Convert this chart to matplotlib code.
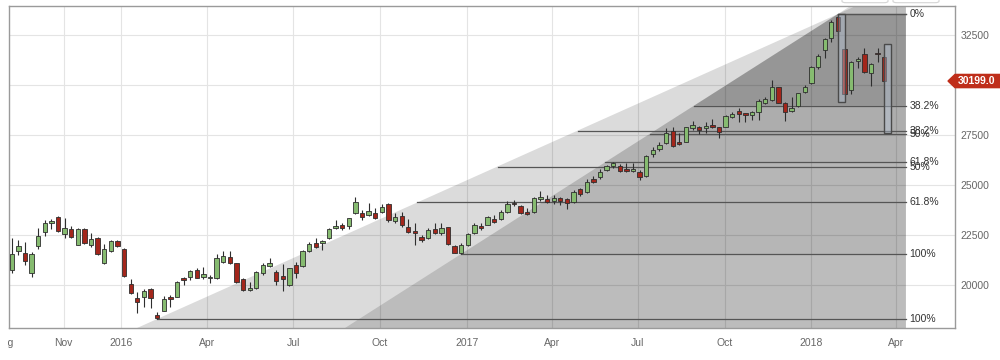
import matplotlib
matplotlib.use('Agg')
import matplotlib.pyplot as plt
import matplotlib.dates as mdates
from matplotlib.patches import Polygon, Rectangle, FancyBboxPatch
from matplotlib.transforms import Bbox, TransformedBbox
import numpy as np
import pandas as pd

plt.rcParams['font.family'] = ['Liberation Sans', 'DejaVu Sans']

# weekly candles, first week starting Monday 2015-09-07
week_start = '2015-09-07'
opens = [20750, 21700, 21617, 20617, 21967, 22667, 23083, 23417, 22533, 22800,
         22000, 22800, 22000, 22367, 21083, 21700, 22200,
         21800, 20033, 19333, 19383, 19800, 18500, 18717, 19417, 19417, 20333,
         20383, 20750, 20417, 20333, 20333, 21167, 21417, 21083, 20300, 19733,
         19833, 20583, 20967, 20667, 20467, 20000, 21000, 20967, 21700, 22083,
         22083, 22333, 22833, 23000, 22967, 23583, 23617, 23500, 23583, 23667,
         24050, 23217, 23450, 22883, 22717, 22383, 22333, 22783, 22617, 22883,
         21950, 21617,
         22000, 22583, 22950, 23000, 23283, 23283, 23667, 24117, 23950, 23667,
         23667, 24283, 24283, 24217, 24333, 24283, 24167, 24783, 24667, 25283,
         25383, 25750, 25950, 25967, 25800, 25700, 25667, 25467, 26533, 26800,
         27083, 27700, 27133, 27167, 27867, 27917, 27833, 28000, 27883, 27917,
         28417, 28717, 28617, 28500, 28667, 29117, 29250, 29883, 29117, 28700,
         28950, 29667,
         30083, 30917, 31750, 32333, 33383, 31783, 29750, 31200, 31550, 30583,
         31617, 31417]
highs = [22333, 22250, 22133, 21667, 22833, 23250, 23283, 23450, 23367, 22967,
         22833, 22833, 22583, 22417, 22033, 22250, 22250,
         21867, 20300, 19667, 19800, 19833, 18633, 19450, 19500, 20217, 20417,
         20750, 20833, 20917, 20500, 21533, 21700, 21700, 21117, 20367, 20167,
         20700, 21083, 21367, 20750, 21050, 20867, 21167, 21750, 22167, 22333,
         22250, 22867, 23250, 23083, 23367, 24417, 23750, 24083, 23833, 24050,
         24117, 23583, 23667, 23283, 23083, 22500, 22833, 23083, 23083, 22917,
         22000, 22083,
         22617, 23083, 23083, 23450, 23500, 23750, 24200, 24250, 24000, 23833,
         24383, 24717, 24500, 24500, 24417, 24333, 24750, 24833, 25283, 25450,
         25783, 26000, 26167, 26033, 26083, 26083, 25750, 26500, 26917, 27133,
         27833, 27917, 27583, 27917, 28200, 27967, 28167, 28300, 27917, 28500,
         28667, 28833, 28617, 28717, 29283, 29383, 30250, 29917, 29167, 29417,
         29617, 30000,
         30950, 31533, 32333, 33250, 33550, 31800, 31217, 31417, 31833, 31083,
         31833, 31500]
lows = [20583, 21500, 21000, 20417, 21800, 22450, 22800, 22650, 22367, 22367,
        22000, 22050, 21917, 21500, 21033, 21667, 21917,
        20417, 19533, 18583, 18917, 18867, 18300, 18700, 18917, 19383, 20000,
        20250, 20333, 20300, 20083, 20300, 21083, 21033, 20083, 19700, 19700,
        19800, 20500, 20917, 20000, 19700, 19967, 20333, 20917, 21667, 21833,
        21750, 22300, 22800, 22750, 22800, 23533, 23250, 23450, 23283, 23617,
        23167, 23117, 22917, 22617, 22000, 22167, 22283, 22550, 22500, 22017,
        21600, 21550,
        21950, 22550, 22750, 23000, 23083, 23250, 23617, 23950, 23550, 23500,
        23617, 24217, 24117, 24050, 24000, 23783, 24083, 24450, 24617, 25083,
        25283, 25700, 25867, 25667, 25667, 25633, 25250, 25417, 26417, 26700,
        27033, 26917, 27000, 27133, 27750, 27533, 27583, 27867, 27367, 27883,
        28333, 28167, 28167, 28250, 28250, 29050, 29217, 29083, 28200, 28667,
        28917, 29617,
        30050, 30783, 31333, 32167, 32550, 29500, 29533, 30833, 30583, 29950,
        31167, 30167]
closes = [21533, 21967, 21217, 21533, 22467, 23083, 23200, 22700, 22867, 22417,
          22800, 22083, 22300, 21533, 21800, 22200, 21967,
          20450, 19583, 19133, 19717, 19333, 18367, 19300, 19300, 20167, 20233,
          20700, 20367, 20533, 20417, 21367, 21467, 21083, 20133, 19750, 19867,
          20633, 21000, 21083, 20217, 20300, 20833, 20583, 21700, 22033, 21917,
          22200, 22800, 22967, 22867, 23333, 24133, 23417, 23717, 23333, 23883,
          23250, 23417, 23000, 22667, 22583, 22250, 22750, 22617, 22833, 22050,
          21617, 22000,
          22550, 23000, 22833, 23417, 23167, 23667, 24050, 24033, 23583, 23550,
          24333, 24417, 24167, 24333, 24217, 24083, 24667, 24550, 25167, 25167,
          25667, 25967, 26083, 25700, 25700, 25800, 25417, 26450, 26750, 27000,
          27583, 26967, 27033, 27883, 28000, 27750, 27950, 27917, 27633, 28450,
          28550, 28550, 28500, 28667, 29217, 29283, 29883, 29117, 28667, 28867,
          29583, 29917,
          30883, 31450, 32283, 33167, 32717, 29550, 31167, 31283, 30633, 31033,
          31533, 30199]

# fibonacci retracements: two swing lows to the same high
fib_high = ('2018-01-29', 33550)
fib_lows = [('2016-02-08', 18300), ('2016-12-26', 21550)]
fib_levels = [0, 0.382, 0.5, 0.618, 1.0]
fib_labels = ['0%', '38.2%', '50%', '61.8%', '100%']
fib_end = '2018-04-11'

# highlight boxes: start, end, top, bottom
boxes = [('2018-01-29', '2018-02-05', 33550, 29150),
         ('2018-03-19', '2018-03-26', 32050, 27600)]
last_price = 30199.0

tick_dates = ['2015-11-01', '2016-01-01', '2016-04-01', '2016-07-01', '2016-10-01',
              '2017-01-01', '2017-04-01', '2017-07-01', '2017-10-01', '2018-01-01',
              '2018-04-01']
tick_labels = ['Nov', '2016', 'Apr', 'Jul', 'Oct', '2017', 'Apr', 'Jul', 'Oct', '2018', 'Apr']
y_ticks = [20000, 22500, 25000, 27500, 30000, 32500]


def main():
    dates = pd.date_range(week_start, periods=len(opens), freq='W-MON')
    x = mdates.date2num(dates)
    o = np.array(opens, float)
    h = np.array(highs, float)
    l = np.array(lows, float)
    c = np.array(closes, float)

    fig = plt.figure(figsize=(10, 3.6), dpi=100)
    ax = fig.add_axes([0.009, 0.0889, 0.946, 0.8944])
    ylo, yhi = 17850, 33950
    ax.set_ylim(ylo, yhi)
    ax.set_xlim(x[0] - 2.9, mdates.date2num(pd.Timestamp('2016-01-04')) + 880)

    # grid
    ax.set_axisbelow(True)
    ax.grid(True, color='#e4e4e4', lw=0.8)
    for s in ax.spines.values():
        s.set_color('#9a9a9a')
        s.set_linewidth(1)

    # fib shading, lines and labels (second fib has the stronger zone shading)
    hx = mdates.date2num(pd.Timestamp(fib_high[0]))
    hp = fib_high[1]
    ex = mdates.date2num(pd.Timestamp(fib_end))
    band_alpha = [[0.0, 0.0, 0.0, 0.0], [0.2, 0.08, 0.05, 0.03]]
    labelled = set()
    for k, (ld, lp) in enumerate(fib_lows):
        lx = mdates.date2num(pd.Timestamp(ld))

        def fx(p):
            return lx + (p - lp) * (hx - lx) / (hp - lp)

        ax.add_patch(Polygon([(fx(ylo), ylo), (fx(yhi), yhi), (ex, yhi), (ex, ylo)],
                             closed=True, fc='black', alpha=0.14, lw=0, zorder=1))
        prices = [hp - lv * (hp - lp) for lv in fib_levels]
        for i in range(len(prices) - 1):
            pt, pb = prices[i], prices[i + 1]
            if band_alpha[k][i] > 0:
                ax.add_patch(Polygon([(fx(pb), pb), (fx(pt), pt), (ex, pt), (ex, pb)],
                                     closed=True, fc='black', alpha=band_alpha[k][i],
                                     lw=0, zorder=1))
        for p, lab in zip(prices, fib_labels):
            ax.plot([fx(p), ex], [p, p], color='#555555', lw=0.9, zorder=1.5)
            if (p, lab) in labelled:
                continue
            labelled.add((p, lab))
            ax.text(ex + 4, p, lab, va='center', ha='left', fontsize=7.5, color='#333333',
                    zorder=5)

    # candles
    up = c >= o
    ax.vlines(x, l, h, color='#2e2e2e', lw=0.8, zorder=2.5)
    body_h = np.maximum(np.abs(c - o), 60)
    ax.bar(x, body_h, bottom=np.minimum(o, c), width=4.6,
           color=np.where(up, '#86bb70', '#a3261b'), edgecolor='#2e2e2e', lw=0.6, zorder=3)

    # highlight boxes
    for s, e, top, bot in boxes:
        xs = mdates.date2num(pd.Timestamp(s))
        xe = mdates.date2num(pd.Timestamp(e))
        ax.add_patch(Rectangle((xs, bot), xe - xs, top - bot, fc=(0.72, 0.78, 0.86, 0.4),
                               ec='#4a4a4a', lw=1.0, zorder=4))

    # axes ticks (30000 sits under the price tag)
    ax.set_xticks(mdates.date2num(pd.to_datetime(tick_dates)))
    ax.set_xticklabels(tick_labels)
    ax.set_yticks(y_ticks)
    ax.set_yticklabels(['' if v == 30000 else str(v) for v in y_ticks])
    ax.yaxis.tick_right()
    ax.tick_params(axis='x', length=0, pad=7, labelsize=7.5, labelcolor='#666666')
    ax.tick_params(axis='y', length=0, pad=4, labelsize=7.5, labelcolor='#666666')

    # first month label, mostly cut off at the left edge
    aug = fig.text(0.0145, 0.061, 'Aug', ha='right', va='top', fontsize=7.5, color='#666666')
    aug.set_clip_box(TransformedBbox(Bbox([[0.0075, 0.0], [0.1, 0.2]]), fig.transFigure))
    aug.set_clip_on(True)

    # last price tag
    tr = ax.get_yaxis_transform()
    d = 330
    ax.add_patch(Polygon([(0.9926, last_price), (1.0, last_price + d), (1.06, last_price + d),
                          (1.06, last_price - d), (1.0, last_price - d)],
                         closed=True, transform=tr, fc='#bf2e1a', ec='#bf2e1a',
                         clip_on=False, zorder=6))
    ax.text(1.003, last_price, '%.1f' % last_price, transform=tr, ha='left', va='center',
            fontsize=7.5, color='white', fontweight='bold', clip_on=False, zorder=7)

    # cut-off toolbar buttons at the top edge
    for bx in (0.842, 0.893):
        fig.patches.append(FancyBboxPatch((bx, 0.9925), 0.046, 0.03,
                                          boxstyle='round,pad=0,rounding_size=0.004',
                                          transform=fig.transFigure, fc='white',
                                          ec='#d4d4d4', lw=0.8))

    fig.savefig('out.png', dpi=100)


if __name__ == '__main__':
    main()
